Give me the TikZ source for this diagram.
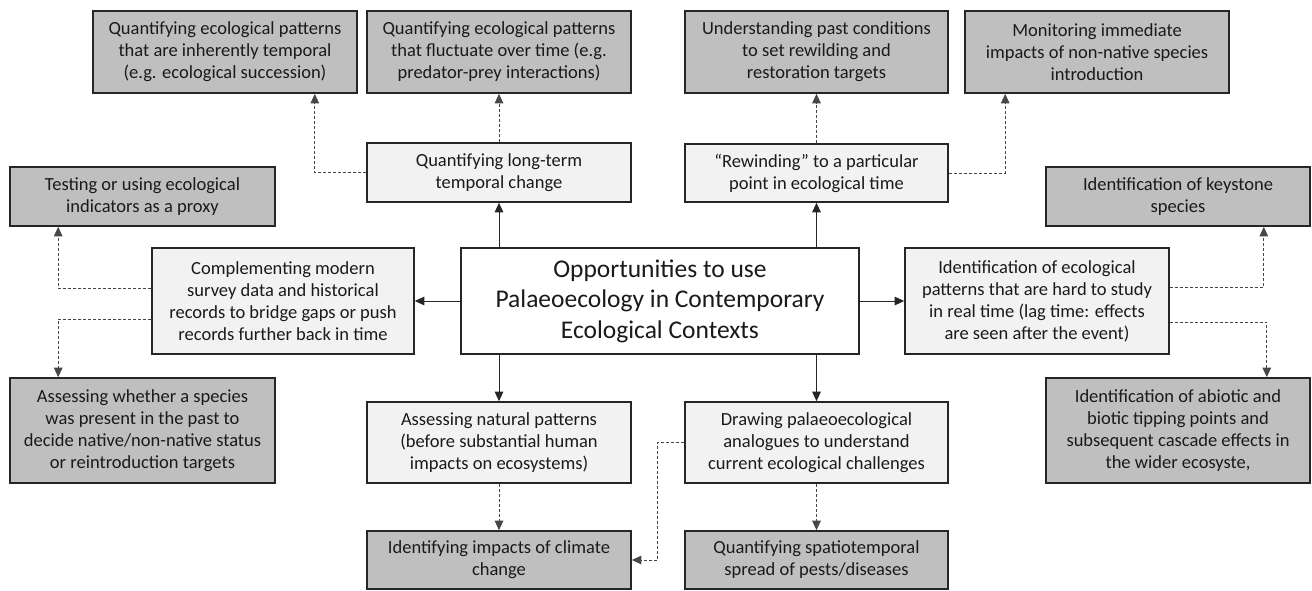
\documentclass[tikz,border=0pt]{standalone}
\usepackage{fontspec}
\setmainfont{Carlito}
\usetikzlibrary{arrows.meta,calc}
\definecolor{gfill}{HTML}{BFBFBF}
\definecolor{lfill}{HTML}{F2F2F2}
\definecolor{ink}{HTML}{262626}
\definecolor{txt}{HTML}{1A1A1A}
\begin{document}
\begin{tikzpicture}[x=1pt,y=-1pt,
  base/.style={draw=ink,line width=1.6pt,text=txt,align=center,inner sep=0pt,
    font=\fontsize{18.5}{22}\selectfont},
  gbox/.style={base,fill=gfill},
  lbox/.style={base,fill=lfill},
  cbox/.style={base,fill=white,line width=2pt,font=\fontsize{25.5}{30.5}\selectfont},
  sarr/.style={draw=ink,line width=1pt,-{Triangle[width=8.5pt,length=9.5pt]}},
  darr/.style={draw=ink!85,line width=1pt,dash pattern=on 3pt off 2pt,-{Triangle[width=8.5pt,length=9.5pt]}}]
\useasboundingbox (0,0) rectangle (1312,590);
% top row
\node[gbox,minimum width=264pt,minimum height=82pt] (b1) at (225,52) {Quantifying ecological patterns\\that are inherently temporal\\(e.g. ecological succession)};
\node[gbox,minimum width=264pt,minimum height=82pt] (b2) at (499,52) {Quantifying ecological patterns\\that fluctuate over time (e.g.\\predator-prey interactions)};
\node[gbox,minimum width=263pt,minimum height=82pt] (b3) at (816.5,52) {Understanding past conditions\\to set rewilding and\\restoration targets};
\node[gbox,minimum width=264pt,minimum height=82pt] (b4) at (1097,52) {Monitoring immediate\\impacts of non-native species\\introduction};
% second row
\node[lbox,minimum width=264pt,minimum height=59pt] (q) at (499,172.5) {Quantifying long-term\\temporal change};
\node[lbox,minimum width=263pt,minimum height=58pt] (r) at (816.5,173) {“Rewinding” to a particular\\point in ecological time};
\node[gbox,minimum width=265pt,minimum height=59pt] (test) at (142.5,196.5) {Testing or using ecological\\indicators as a proxy};
\node[gbox,minimum width=264pt,minimum height=59pt] (key) at (1178,196.5) {Identification of keystone\\species};
% middle row
\node[lbox,minimum width=262pt,minimum height=106pt] (comp) at (283,301) {Complementing modern\\survey data and historical\\records to bridge gaps or push\\records further back in time};
\node[cbox,minimum width=398pt,minimum height=106pt] (center) at (660,301) {Opportunities to use\\Palaeoecology in Contemporary\\Ecological Contexts};
\node[lbox,minimum width=264pt,minimum height=106pt] (ident) at (1037,301) {Identification of ecological\\patterns that are hard to study\\in real time (lag time: effects\\are seen after the event)};
% lower rows
\node[gbox,minimum width=265pt,minimum height=105pt] (assw) at (142.5,430.5) {Assessing whether a species\\was present in the past to\\decide native/non-native status\\or reintroduction targets};
\node[gbox,minimum width=264pt,minimum height=105pt] (abio) at (1178,430.5) {Identification of abiotic and\\biotic tipping points and\\subsequent cascade effects in\\the wider ecosyste,};
\node[lbox,minimum width=264pt,minimum height=81pt] (nat) at (499,442.5) {Assessing natural patterns\\(before substantial human\\impacts on ecosystems)};
\node[lbox,minimum width=263pt,minimum height=81pt] (drw) at (816.5,442.5) {Drawing palaeoecological\\analogues to understand\\current ecological challenges};
\node[gbox,minimum width=264pt,minimum height=58pt] (clim) at (499,560) {Identifying impacts of climate\\change};
\node[gbox,minimum width=263pt,minimum height=58pt] (spat) at (816.5,560) {Quantifying spatiotemporal\\spread of pests/diseases};
% solid connectors
\draw[sarr] (center.north -| q.south) -- (q.south);
\draw[sarr] (center.north -| r.south) -- (r.south);
\draw[sarr] (center.west) -- (comp.east);
\draw[sarr] (center.east) -- (ident.west);
\draw[sarr] (center.south -| nat.north) -- (nat.north);
\draw[sarr] (center.south -| drw.north) -- (drw.north);
% dashed connectors
\draw[darr] (q.west) -| ([xshift=-43pt]b1.south east);
\draw[darr] (q.north) -- (b2.south);
\draw[darr] (r.north) -- (b3.south);
\draw[darr] (r.east) -| ([xshift=41pt]b4.south west);
\draw[darr] ([yshift=13pt]comp.west) -| ([xshift=49pt]test.south west);
\draw[darr] ([yshift=-18pt]comp.west) -| ([xshift=49pt]assw.north west);
\draw[darr] ([yshift=14pt]ident.east) -| ([xshift=-47pt]key.south east);
\draw[darr] ([yshift=-21pt]ident.east) -| ([xshift=-44pt]abio.north east);
\draw[darr] (nat.south) -- (clim.north);
\draw[darr] (drw.south) -- (spat.north);
\coordinate (dc) at ([xshift=-27pt]drw.west);
\draw[darr] (drw.west) -- (dc) |- (clim.east);
\end{tikzpicture}
\end{document}
